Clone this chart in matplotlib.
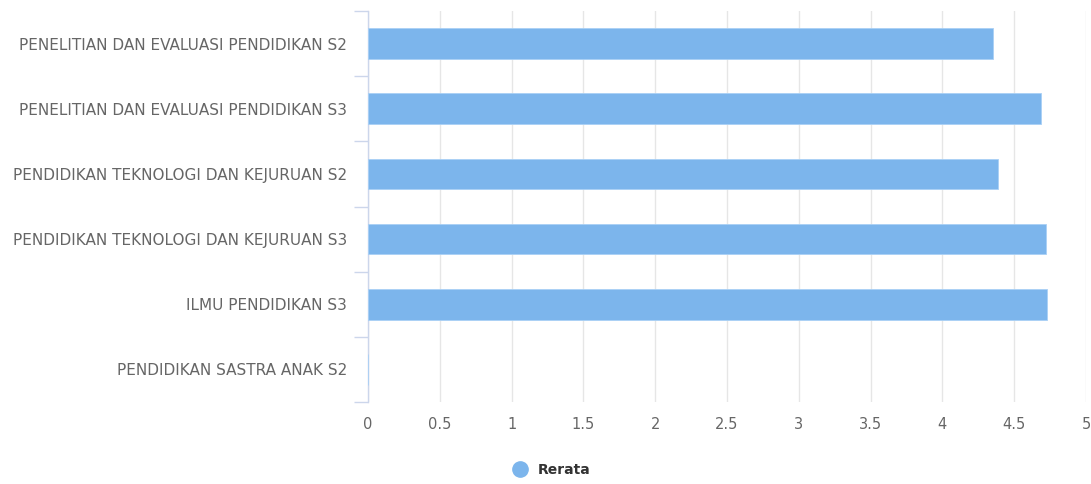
import matplotlib

matplotlib.use("Agg")
import matplotlib.pyplot as plt
import numpy as np
from matplotlib.lines import Line2D

categories = [
    "PENELITIAN DAN EVALUASI PENDIDIKAN S2",
    "PENELITIAN DAN EVALUASI PENDIDIKAN S3",
    "PENDIDIKAN TEKNOLOGI DAN KEJURUAN S2",
    "PENDIDIKAN TEKNOLOGI DAN KEJURUAN S3",
    "ILMU PENDIDIKAN S3",
    "PENDIDIKAN SASTRA ANAK S2",
]
rerata = [4.35, 4.69, 4.39, 4.72, 4.73, 0.0]
x_ticks = [0, 0.5, 1, 1.5, 2, 2.5, 3, 3.5, 4, 4.5, 5]
x_tick_labels = ["0", "0.5", "1", "1.5", "2", "2.5", "3", "3.5", "4", "4.5", "5"]
series_name = "Rerata"

plt.rcParams["font.family"] = ["DejaVu Sans"]

fig = plt.figure(figsize=(10.91, 4.84), dpi=100)
ax = fig.add_axes([368 / 1091, 1 - 402 / 484, 718 / 1091, 391 / 484])

y = np.arange(len(categories))
ax.barh(y, rerata, height=0.47, color="#7cb5ec", edgecolor="#a9d0f5", linewidth=0.6, zorder=3)

ax.set_xlim(0, 5)
ax.set_ylim(len(categories) - 0.5, -0.5)
ax.set_xticks(x_ticks)
ax.set_xticklabels(x_tick_labels)
ax.set_yticks(y)
ax.set_yticklabels(categories)
ax.set_yticks(np.arange(len(categories) + 1) - 0.5, minor=True)

ax.grid(axis="x", color="#e6e6e6", linewidth=1, zorder=0)
for side in ("top", "right", "bottom"):
    ax.spines[side].set_visible(False)
ax.spines["left"].set_color("#ccd6eb")
ax.spines["left"].set_linewidth(1)

ax.tick_params(axis="x", length=0, pad=11, labelsize=10.5, labelcolor="#666666")
ax.tick_params(axis="y", which="major", length=0, pad=15, labelsize=11, labelcolor="#666666")
ax.tick_params(axis="y", which="minor", length=10, width=1, color="#ccd6eb")

handle = Line2D([], [], marker="o", linestyle="none", markersize=11,
                markerfacecolor="#7cb5ec", markeredgecolor="#7cb5ec")
fig.legend([handle], [series_name], loc="center", bbox_to_anchor=(548 / 1091, 1 - 470 / 484),
           frameon=False, handletextpad=0.3, prop={"size": 10, "weight": "bold"},
           labelcolor="#333333")

fig.savefig("out.png", dpi=100)
